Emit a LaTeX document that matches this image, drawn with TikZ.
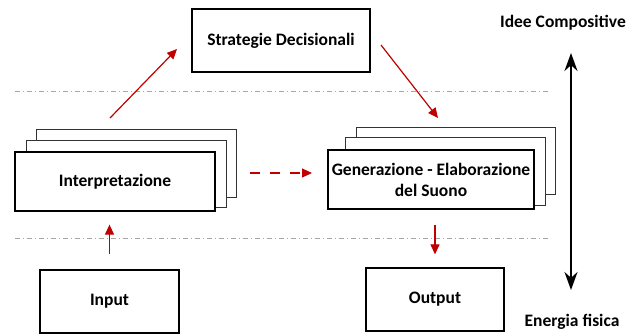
\documentclass[tikz,border=0pt]{standalone}
\usepackage{fontspec}
\setmainfont{Carlito}
\usetikzlibrary{arrows.meta,positioning}

\definecolor{arrowred}{HTML}{C00000}

\begin{document}
\begin{tikzpicture}[x=1pt, y=-1pt, every node/.style={font=\fontsize{17.5}{21}\selectfont\bfseries, align=center}, >=Latex]
  \tikzset{
    box/.style={draw, line width=1.3pt, fill=white, inner sep=2pt},
    backbox/.style={draw=black!80, line width=1pt, fill=white},
    flow/.style={->, draw=arrowred, line width=1.2pt, >={Triangle[length=10pt, width=9pt]}},
    level/.style={gray!70, line width=0.8pt, dash pattern=on 5pt off 3pt on 1pt off 3pt}
  }
  \useasboundingbox (0,0) rectangle (639,334);

  % separating lines
  \draw[level] (15,91) -- (551,91);
  \draw[level] (15,238) -- (551,238);

  % stacked copies behind the two main blocks
  \draw[backbox] (36,129) rectangle (236,197);
  \draw[backbox] (26,140) rectangle (226,207);
  \draw[backbox] (356,127) rectangle (555,194);
  \draw[backbox] (345,137) rectangle (545,205);

  \node[box, minimum width=178pt, minimum height=63pt] (strat) at (281,40.5) {Strategie Decisionali};
  \node[box, minimum width=200pt, minimum height=59pt] (interp) at (115,181.5) {Interpretazione};
  \node[box, minimum width=206pt, minimum height=59pt] (gen) at (431,179.5) {Generazione - Elaborazione\\del Suono};
  \node[box, minimum width=139pt, minimum height=63pt] (input) at (109.5,301.5) {Input};
  \node[box, minimum width=138pt, minimum height=63pt] (output) at (435,299.5) {Output};

  \node (idee) at (563,23) {Idee Compositive};
  \node (energia) at (572,322) {Energia fisica};

  \coordinate (up1) at (110,118);
  \coordinate (up2) at (177,49);
  \coordinate (down1) at (381,45);
  \coordinate (down2) at (438,118);
  \coordinate (dash1) at (250,173);
  \coordinate (dash2) at (312,173);
  \coordinate (axtop) at (571,53);
  \coordinate (axbot) at (571,290);

  \draw[flow, shorten <=15pt, shorten >=13pt] (input.north) -- (input.north |- interp.south);
  \draw[flow] (up1) -- (up2);
  \draw[flow] (down1) -- (down2);
  \draw[flow, dash pattern=on 10pt off 10pt] (dash1) -- (dash2);
  \draw[flow, shorten <=15pt, shorten >=13pt] (output.north |- gen.south) -- (output.north);
  \draw[{Stealth[length=18pt, width=13pt]}-{Stealth[length=18pt, width=13pt]}, line width=2pt] (axtop) -- (axbot);
\end{tikzpicture}
\end{document}
